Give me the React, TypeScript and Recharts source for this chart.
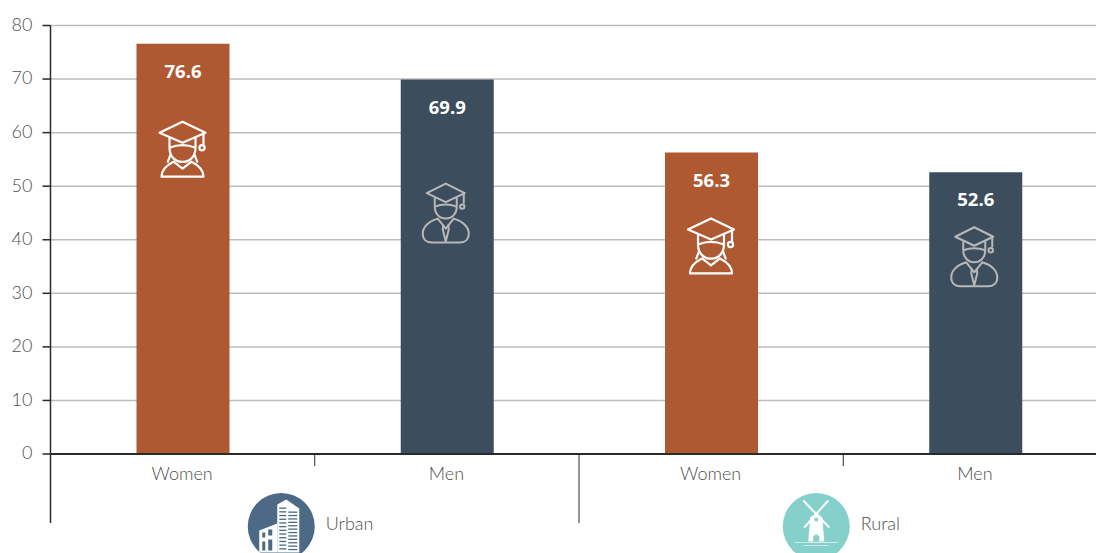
import React from "react";
import { BarChart, Bar, XAxis, YAxis, CartesianGrid, Cell, LabelList } from "recharts";

const categories = ["Women", "Men", "Women", "Men"];
const groups = ["Urban", "Urban", "Rural", "Rural"];
const values = [76.6, 69.9, 56.3, 52.6];
const yTicks = [0, 10, 20, 30, 40, 50, 60, 70, 80];

const data = categories.map((name, i) => ({ name, group: groups[i], value: values[i] }));

const CHART_W = 1107.5;
const CHART_H = 553;
const AXIS_W = 50.5;
const STEP = (CHART_W - AXIS_W) / categories.length;
const FONT = "Lato, 'Open Sans', sans-serif";
const DARK = "#2a2a2a";
const TEXT = "#4f4f4f";
const barColor = (name: string) => (name === "Women" ? "#ae5932" : "#3c4d5e");

// hand placed in the original, so offset from the bar top per bar
const iconOffsets = [78, 104, 66, 55];

const WomanIcon = ({ x, y }: { x: number; y: number }) => (
  <g transform={`translate(${x},${y})`} fill="none" stroke="#fff" strokeWidth={2.2} strokeLinejoin="round">
    <path d="M0 0 L23 11 L0 21 L-23 11 Z" />
    <path d="M-13 16 V26 M13 16 V26" />
    <path d="M-13 26 Q0 21 13 26" />
    <path d="M21 12 V23" />
    <circle cx={19.5} cy={26} r={2.6} />
    <path d="M-13 26 C-13 45 13 45 13 26" />
    <path d="M-12 33 L-15 41 M12 33 L15 41" />
    <path d="M-21 55 H21 C21 47 15 43 9 40 L0 47 L-9 40 C-15 43 -21 47 -21 55 Z" />
  </g>
);

const ManIcon = ({ x, y }: { x: number; y: number }) => (
  <g transform={`translate(${x},${y})`} fill="none" stroke="#b8b8b8" strokeWidth={2} strokeLinejoin="round">
    <path d="M0 0 L19 9.5 L0 18.5 L-19 9.5 Z" />
    <path d="M-11 14 V23 M11 14 V23" />
    <path d="M-11 23 Q0 19 11 23" />
    <path d="M18 10 V20" />
    <circle cx={16.5} cy={23} r={2.2} />
    <path d="M-11 23 C-11 39 11 39 11 23" />
    <path d="M-8 35 C-18 38 -23 44 -23 50 C-23 56 -19 59 -14 59 H14 C19 59 23 56 23 50 C23 44 18 38 8 35 L0 45 Z" />
    <path d="M-2.5 41 L-3 46 L0 58 L3 46 L2.5 41" />
  </g>
);

const BuildingBadge = ({ cx, cy }: { cx: number; cy: number }) => {
  const rows = [0, 1, 2, 3, 4, 5, 6, 7, 8, 9, 10, 11];
  return (
    <g>
      <circle cx={cx} cy={cy} r={33.5} fill="#4c6a85" />
      <path d={`M${cx - 4} ${cy - 22} L${cx + 5} ${cy - 27} L${cx + 18} ${cy - 18} V${cy + 26} H${cx - 4} Z`} fill="#fff" />
      {rows.map((r) => (
        <g key={r}>
          <rect x={cx - 2} y={cy - 19 + r * 3.7} width={7} height={1.3} fill="#4c6a85" />
          <rect x={cx + 7} y={cy - 15 + r * 3.4} width={9} height={1.3} fill="#4c6a85" />
        </g>
      ))}
      <path d={`M${cx - 22} ${cy + 4} L${cx - 4} ${cy - 3} V${cy + 26} H${cx - 22} Z`} fill="#fff" />
      <rect x={cx - 19} y={cy + 6} width={3} height={5} fill="#4c6a85" />
      <rect x={cx - 13} y={cy + 3} width={4} height={6} fill="#4c6a85" />
      <rect x={cx - 19} y={cy + 15} width={3} height={9} fill="#4c6a85" />
      <rect x={cx - 13} y={cy + 13} width={4} height={11} fill="#4c6a85" />
    </g>
  );
};

const MillBadge = ({ cx, cy }: { cx: number; cy: number }) => (
  <g>
    <circle cx={cx} cy={cy} r={33.5} fill="#86d0cb" />
    <path d={`M${cx - 13} ${cy - 26} L${cx + 13} ${cy + 1} M${cx + 12} ${cy - 26} L${cx - 12} ${cy + 1}`} stroke="#fff" strokeWidth={2} />
    <path d={`M${cx - 6} ${cy - 9} Q${cx} ${cy - 16} ${cx + 6} ${cy - 9} L${cx + 8} ${cy + 15} H${cx - 8} Z`} fill="#fff" />
    <circle cx={cx} cy={cy - 7} r={2} fill="#86d0cb" />
    <path d={`M${cx - 3} ${cy + 15} V${cy + 10} Q${cx} ${cy + 6} ${cx + 3} ${cy + 10} V${cy + 15} Z`} fill="#86d0cb" />
    <path d={`M${cx - 22} ${cy + 16} H${cx + 22} M${cx - 12} ${cy + 19} H${cx + 12}`} stroke="#fff" strokeOpacity={0.6} strokeWidth={1} />
  </g>
);

const CategoryTick = (props: any) => {
  const { x, y, payload, index } = props;
  const top = y - 8; // axis line sits at the top of the tick area
  const right = x + STEP / 2;
  const longBottom = top + 69;
  const isGroupStart = index % 2 === 0;
  const group = groups[index];
  const badgeX = index === 0 ? right - 33.5 : right - 27;
  return (
    <g>
      {index === 0 && <line x1={x - STEP / 2} x2={x - STEP / 2} y1={top} y2={longBottom} stroke={DARK} strokeWidth={1.5} />}
      <line x1={right} x2={right} y1={top} y2={isGroupStart ? top + 12 : longBottom} stroke={DARK} strokeWidth={1} />
      <text x={x - 0.5} y={top + 26} textAnchor="middle" fontFamily={FONT} fontWeight={300} fontSize={18} fill={TEXT}>
        {payload.value}
      </text>
      {isGroupStart && (
        <g>
          {group === "Urban" ? <BuildingBadge cx={badgeX} cy={top + 72.5} /> : <MillBadge cx={badgeX} cy={top + 72.5} />}
          <text x={badgeX + 44.5} y={top + 75.5} fontFamily={FONT} fontWeight={300} fontSize={18} fill={TEXT}>
            {group}
          </text>
        </g>
      )}
    </g>
  );
};

const renderIcon = (props: any) => {
  const { x, y, width, index } = props;
  const cx = x + width / 2;
  const top = y + iconOffsets[index];
  return categories[index] === "Women" ? <WomanIcon x={cx - 0.5} y={top} /> : <ManIcon x={cx - 1.5} y={top} />;
};

const App: React.FC = () => {
  return (
    <div style={{ position: "absolute", left: 0, top: 0, width: 1096, height: 553, overflow: "hidden", background: "#fff" }}>
      <BarChart width={CHART_W} height={CHART_H} data={data} margin={{ top: 25.5, right: 0, bottom: 0, left: 0 }}>
        <CartesianGrid vertical={false} stroke="#bdbdbd" strokeWidth={1.5} />
        <XAxis
          dataKey="name"
          interval={0}
          height={99}
          tickLine={false}
          axisLine={{ stroke: DARK, strokeWidth: 2 }}
          tick={<CategoryTick />}
        />
        <YAxis
          width={AXIS_W}
          domain={[0, 80]}
          ticks={yTicks}
          tickSize={8}
          tickMargin={10}
          tickLine={{ stroke: DARK, strokeWidth: 1.5 }}
          axisLine={{ stroke: DARK, strokeWidth: 1.5 }}
          tick={{ fontFamily: FONT, fontWeight: 300, fontSize: 18, fill: TEXT, dy: -1 }}
        />
        <Bar dataKey="value" barSize={93} isAnimationActive={false}>
          {data.map((d, i) => (
            <Cell key={i} fill={barColor(d.name)} />
          ))}
          <LabelList
            dataKey="value"
            position="insideTop"
            offset={21}
            fill="#fff"
            fontFamily="'Open Sans', sans-serif"
            fontWeight={700}
            fontSize={18.5}
          />
          <LabelList dataKey="value" content={renderIcon} />
        </Bar>
      </BarChart>
    </div>
  );
};

export default App;
